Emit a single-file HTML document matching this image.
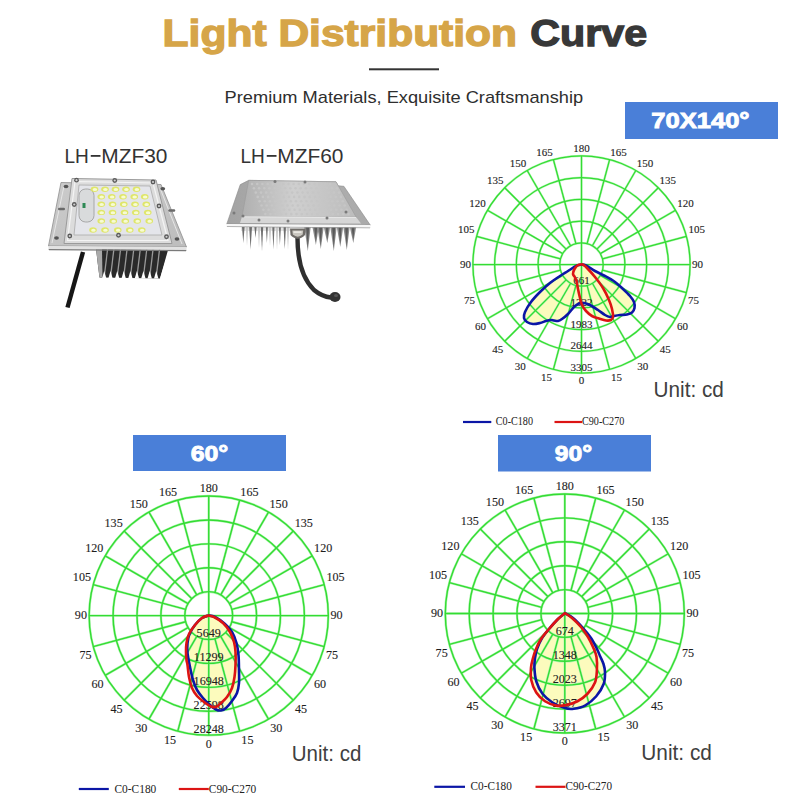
<!DOCTYPE html>
<html><head><meta charset="utf-8"><style>
html,body{margin:0;padding:0;background:#fff;}
body{width:800px;height:800px;overflow:hidden;font-family:"Liberation Sans",sans-serif;}
svg{display:block;}
</style></head><body>
<svg width="800" height="800" viewBox="0 0 800 800">
<defs><linearGradient id="plate1" x1="0" y1="0" x2="1" y2="1"><stop offset="0" stop-color="#cbcbcb"/><stop offset="1" stop-color="#bdbdbd"/></linearGradient><linearGradient id="lens1" x1="0" y1="0" x2="0" y2="1"><stop offset="0" stop-color="#dcdcdc"/><stop offset="1" stop-color="#cfcfcf"/></linearGradient><linearGradient id="plate2" x1="0" y1="0" x2="1" y2="0"><stop offset="0" stop-color="#a3a3a3"/><stop offset="0.5" stop-color="#b0b0b0"/><stop offset="1" stop-color="#aaaaaa"/></linearGradient><linearGradient id="lens2" x1="0" y1="0" x2="1" y2="0"><stop offset="0" stop-color="#b0b0b0"/><stop offset="0.45" stop-color="#cfcfcf"/><stop offset="1" stop-color="#bcbcbc"/></linearGradient></defs>
<text x="162.6" y="46.2" font-family="Liberation Sans, sans-serif" font-weight="bold" font-size="37.5" fill="#d6a548" stroke="#d6a548" stroke-width="1.3" textLength="354.5" lengthAdjust="spacingAndGlyphs">Light Distribution</text>
<text x="530.2" y="46.2" font-family="Liberation Sans, sans-serif" font-weight="bold" font-size="37.5" fill="#383838" stroke="#383838" stroke-width="1.3" textLength="117" lengthAdjust="spacingAndGlyphs">Curve</text>
<rect x="369" y="68.3" width="70" height="2" fill="#333"/>
<text x="224.6" y="103" font-family="Liberation Sans, sans-serif" font-size="17" fill="#2e2e2e" textLength="358.6" lengthAdjust="spacingAndGlyphs">Premium Materials, Exquisite Craftsmanship</text>
<text x="64.5" y="163.25" font-family="Liberation Sans, sans-serif" font-size="20.5" fill="#333" textLength="24.35" lengthAdjust="spacingAndGlyphs">LH</text><rect x="90.75" y="155" width="9.75" height="1.8" fill="#333"/><text x="101.25" y="163.25" font-family="Liberation Sans, sans-serif" font-size="20.5" fill="#333" textLength="66.15" lengthAdjust="spacingAndGlyphs">MZF30</text>
<text x="240.5" y="163.25" font-family="Liberation Sans, sans-serif" font-size="20.5" fill="#333" textLength="24.35" lengthAdjust="spacingAndGlyphs">LH</text><rect x="266.75" y="155" width="9.75" height="1.8" fill="#333"/><text x="277.25" y="163.25" font-family="Liberation Sans, sans-serif" font-size="20.5" fill="#333" textLength="66.15" lengthAdjust="spacingAndGlyphs">MZF60</text>
<path d="M83 252 L67.5 307.5" stroke="#161616" stroke-width="4.4" stroke-linecap="butt" fill="none"/><polygon points="96,249 168,250 160,278.5 99.5,277.5" fill="#2a2a2a"/><polygon points="96,249 102,249 102.5,277.5 99.5,277.5" fill="#a9a9a9"/><line x1="107.6" y1="249" x2="104.2" y2="277" stroke="#9a9a9a" stroke-width="1.3"/><polygon points="102,278.6 106.4,278.6 104.2,271" fill="#fff"/><line x1="113.9" y1="249" x2="110.5" y2="277" stroke="#9a9a9a" stroke-width="1.3"/><polygon points="108.3,278.6 112.7,278.6 110.5,271" fill="#fff"/><line x1="120.6" y1="249" x2="117.2" y2="277" stroke="#9a9a9a" stroke-width="1.3"/><polygon points="115,278.6 119.4,278.6 117.2,271" fill="#fff"/><line x1="127.1" y1="249" x2="123.7" y2="277" stroke="#9a9a9a" stroke-width="1.3"/><polygon points="121.5,278.6 125.9,278.6 123.7,271" fill="#fff"/><line x1="133.8" y1="249" x2="130.4" y2="277" stroke="#9a9a9a" stroke-width="1.3"/><polygon points="128.2,278.6 132.6,278.6 130.4,271" fill="#fff"/><line x1="140.3" y1="249" x2="136.9" y2="277" stroke="#9a9a9a" stroke-width="1.3"/><polygon points="134.7,278.6 139.1,278.6 136.9,271" fill="#fff"/><line x1="146.8" y1="249" x2="143.4" y2="277" stroke="#9a9a9a" stroke-width="1.3"/><polygon points="141.2,278.6 145.6,278.6 143.4,271" fill="#fff"/><line x1="153.1" y1="249" x2="149.7" y2="277" stroke="#9a9a9a" stroke-width="1.3"/><polygon points="147.5,278.6 151.9,278.6 149.7,271" fill="#fff"/><line x1="159.6" y1="249" x2="156.2" y2="277" stroke="#9a9a9a" stroke-width="1.3"/><polygon points="154,278.6 158.4,278.6 156.2,271" fill="#fff"/><polygon points="160,278.6 169,278.6 169,249.5" fill="#fff"/><polygon points="61,182.5 161,184.5 186.5,247 48.5,246" fill="url(#plate1)" stroke="#8e8e8e" stroke-width="0.8"/><polygon points="48.5,246 186.5,247 186.5,250 48.5,249" fill="#e2e2e2"/><polygon points="48.5,249 186.5,250 186,251.2 49,250.2" fill="#7a7a7a"/><line x1="64" y1="186" x2="52" y2="243" stroke="#e6e6e6" stroke-width="1"/><line x1="160" y1="188" x2="182" y2="244" stroke="#e6e6e6" stroke-width="1"/><ellipse cx="66" cy="186.5" rx="2.4" ry="1.7" fill="#555"/><ellipse cx="162.75" cy="188.75" rx="2.4" ry="1.7" fill="#555"/><ellipse cx="56.5" cy="238" rx="2.4" ry="1.7" fill="#555"/><ellipse cx="177" cy="239" rx="2.4" ry="1.7" fill="#555"/><rect x="58" y="207.7" width="7" height="2.6" rx="1.3" fill="#6a6a6a"/><rect x="168.25" y="209.2" width="7" height="2.6" rx="1.3" fill="#6a6a6a"/><polygon points="72,178.5 156,180 172,243.5 64,243.5" fill="#dcdcdc" stroke="#9a9a9a" stroke-width="1" stroke-linejoin="round"/><polygon points="75,181.5 153,183 168,240.5 67.5,240.5" fill="none" stroke="#f4f4f4" stroke-width="1.2"/><polygon points="79,185 150,186 162,235 74,235" fill="#e4e5ea" stroke="#b0b0b0" stroke-width="0.9"/><rect x="79" y="189" width="15" height="33" rx="6.5" fill="#d9dbdc" stroke="#a0a0a0" stroke-width="0.9"/><rect x="82.5" y="203" width="3" height="5" fill="#2e8a55"/><ellipse cx="94.5" cy="189.2" rx="3.8" ry="2.7" fill="#dfe66a"/><ellipse cx="94.9" cy="189.5" rx="2.3" ry="1.5" fill="#f7fbd4"/><ellipse cx="105" cy="189.2" rx="3.8" ry="2.7" fill="#dfe66a"/><ellipse cx="105.4" cy="189.5" rx="2.3" ry="1.5" fill="#f7fbd4"/><ellipse cx="115.5" cy="189.2" rx="3.8" ry="2.7" fill="#dfe66a"/><ellipse cx="115.9" cy="189.5" rx="2.3" ry="1.5" fill="#f7fbd4"/><ellipse cx="126" cy="189.2" rx="3.8" ry="2.7" fill="#dfe66a"/><ellipse cx="126.4" cy="189.5" rx="2.3" ry="1.5" fill="#f7fbd4"/><ellipse cx="136.5" cy="189.2" rx="3.8" ry="2.7" fill="#dfe66a"/><ellipse cx="136.9" cy="189.5" rx="2.3" ry="1.5" fill="#f7fbd4"/><ellipse cx="101.25" cy="196.7" rx="3.8" ry="2.7" fill="#dfe66a"/><ellipse cx="101.65" cy="197" rx="2.3" ry="1.5" fill="#f7fbd4"/><ellipse cx="111.75" cy="196.7" rx="3.8" ry="2.7" fill="#dfe66a"/><ellipse cx="112.15" cy="197" rx="2.3" ry="1.5" fill="#f7fbd4"/><ellipse cx="123" cy="196.7" rx="3.8" ry="2.7" fill="#dfe66a"/><ellipse cx="123.4" cy="197" rx="2.3" ry="1.5" fill="#f7fbd4"/><ellipse cx="134.25" cy="196.7" rx="3.8" ry="2.7" fill="#dfe66a"/><ellipse cx="134.65" cy="197" rx="2.3" ry="1.5" fill="#f7fbd4"/><ellipse cx="144.75" cy="196.7" rx="3.8" ry="2.7" fill="#dfe66a"/><ellipse cx="145.15" cy="197" rx="2.3" ry="1.5" fill="#f7fbd4"/><ellipse cx="101.25" cy="204.2" rx="3.8" ry="2.7" fill="#dfe66a"/><ellipse cx="101.65" cy="204.5" rx="2.3" ry="1.5" fill="#f7fbd4"/><ellipse cx="112.5" cy="204.2" rx="3.8" ry="2.7" fill="#dfe66a"/><ellipse cx="112.9" cy="204.5" rx="2.3" ry="1.5" fill="#f7fbd4"/><ellipse cx="123.75" cy="204.2" rx="3.8" ry="2.7" fill="#dfe66a"/><ellipse cx="124.15" cy="204.5" rx="2.3" ry="1.5" fill="#f7fbd4"/><ellipse cx="135" cy="204.2" rx="3.8" ry="2.7" fill="#dfe66a"/><ellipse cx="135.4" cy="204.5" rx="2.3" ry="1.5" fill="#f7fbd4"/><ellipse cx="146.25" cy="204.2" rx="3.8" ry="2.7" fill="#dfe66a"/><ellipse cx="146.65" cy="204.5" rx="2.3" ry="1.5" fill="#f7fbd4"/><ellipse cx="101.25" cy="212.4" rx="3.8" ry="2.7" fill="#dfe66a"/><ellipse cx="101.65" cy="212.7" rx="2.3" ry="1.5" fill="#f7fbd4"/><ellipse cx="112.5" cy="212.4" rx="3.8" ry="2.7" fill="#dfe66a"/><ellipse cx="112.9" cy="212.7" rx="2.3" ry="1.5" fill="#f7fbd4"/><ellipse cx="124.5" cy="212.4" rx="3.8" ry="2.7" fill="#dfe66a"/><ellipse cx="124.9" cy="212.7" rx="2.3" ry="1.5" fill="#f7fbd4"/><ellipse cx="135.75" cy="212.4" rx="3.8" ry="2.7" fill="#dfe66a"/><ellipse cx="136.15" cy="212.7" rx="2.3" ry="1.5" fill="#f7fbd4"/><ellipse cx="147.75" cy="212.4" rx="3.8" ry="2.7" fill="#dfe66a"/><ellipse cx="148.15" cy="212.7" rx="2.3" ry="1.5" fill="#f7fbd4"/><ellipse cx="101.25" cy="221" rx="3.8" ry="2.7" fill="#dfe66a"/><ellipse cx="101.65" cy="221.3" rx="2.3" ry="1.5" fill="#f7fbd4"/><ellipse cx="113.25" cy="221" rx="3.8" ry="2.7" fill="#dfe66a"/><ellipse cx="113.65" cy="221.3" rx="2.3" ry="1.5" fill="#f7fbd4"/><ellipse cx="125.25" cy="221" rx="3.8" ry="2.7" fill="#dfe66a"/><ellipse cx="125.65" cy="221.3" rx="2.3" ry="1.5" fill="#f7fbd4"/><ellipse cx="137.25" cy="221" rx="3.8" ry="2.7" fill="#dfe66a"/><ellipse cx="137.65" cy="221.3" rx="2.3" ry="1.5" fill="#f7fbd4"/><ellipse cx="149.25" cy="221" rx="3.8" ry="2.7" fill="#dfe66a"/><ellipse cx="149.65" cy="221.3" rx="2.3" ry="1.5" fill="#f7fbd4"/><ellipse cx="93" cy="230" rx="3.8" ry="2.7" fill="#dfe66a"/><ellipse cx="93.4" cy="230.3" rx="2.3" ry="1.5" fill="#f7fbd4"/><ellipse cx="105" cy="230" rx="3.8" ry="2.7" fill="#dfe66a"/><ellipse cx="105.4" cy="230.3" rx="2.3" ry="1.5" fill="#f7fbd4"/><ellipse cx="117.75" cy="230" rx="3.8" ry="2.7" fill="#dfe66a"/><ellipse cx="118.15" cy="230.3" rx="2.3" ry="1.5" fill="#f7fbd4"/><ellipse cx="129.75" cy="230" rx="3.8" ry="2.7" fill="#dfe66a"/><ellipse cx="130.15" cy="230.3" rx="2.3" ry="1.5" fill="#f7fbd4"/><ellipse cx="141.75" cy="230" rx="3.8" ry="2.7" fill="#dfe66a"/><ellipse cx="142.15" cy="230.3" rx="2.3" ry="1.5" fill="#f7fbd4"/><circle cx="76.5" cy="180.2" r="2.4" fill="#5a5a5a"/><circle cx="76.5" cy="180.2" r="1.1" fill="#d0d0d0"/><circle cx="114.75" cy="180.5" r="2.4" fill="#5a5a5a"/><circle cx="114.75" cy="180.5" r="1.1" fill="#d0d0d0"/><circle cx="153" cy="182" r="2.4" fill="#5a5a5a"/><circle cx="153" cy="182" r="1.1" fill="#d0d0d0"/><circle cx="74.25" cy="204.5" r="2.4" fill="#5a5a5a"/><circle cx="74.25" cy="204.5" r="1.1" fill="#d0d0d0"/><circle cx="159" cy="206" r="2.4" fill="#5a5a5a"/><circle cx="159" cy="206" r="1.1" fill="#d0d0d0"/><circle cx="69.75" cy="236" r="2.4" fill="#5a5a5a"/><circle cx="69.75" cy="236" r="1.1" fill="#d0d0d0"/><circle cx="118.5" cy="235.25" r="2.4" fill="#5a5a5a"/><circle cx="118.5" cy="235.25" r="1.1" fill="#d0d0d0"/><circle cx="166.5" cy="236.75" r="2.4" fill="#5a5a5a"/><circle cx="166.5" cy="236.75" r="1.1" fill="#d0d0d0"/>
<polygon points="241,227 290,227 290,231 241,231" fill="#e4e4e4"/><polygon points="242,227 244.6,227 243.3,243" fill="#6f6f6f"/><polygon points="249.2,227 252,227 250.6,249.6" fill="#6f6f6f"/><polygon points="254.4,227 256.6,227 255.5,238" fill="#6f6f6f"/><polygon points="260.8,227 263.2,227 262,251" fill="#6f6f6f"/><polygon points="265.9,227 267.9,227 266.9,243" fill="#6f6f6f"/><polygon points="272.3,227 274.5,227 273.4,249.6" fill="#6f6f6f"/><polygon points="278.9,227 280.9,227 279.9,245" fill="#6f6f6f"/><polygon points="283.55,227 285.95,227 284.75,249.6" fill="#6f6f6f"/><polygon points="245.8,227 248.2,227 247,246" fill="#c8c8c8"/><polygon points="257.8,227 260.2,227 259,248" fill="#c8c8c8"/><polygon points="268.8,227 271.2,227 270,246" fill="#c8c8c8"/><polygon points="275.8,227 278.2,227 277,250" fill="#c8c8c8"/><polygon points="286.8,227 289.2,227 288,250" fill="#c8c8c8"/><polygon points="304.3,227 310.7,227 307.8,251" fill="#8c8c8c"/><polygon points="306.1,227 309.1,227 307.8,248" fill="#5a5a5a"/><polygon points="312.4,227 318.8,227 315.9,245" fill="#8c8c8c"/><polygon points="314.2,227 317.2,227 315.9,242" fill="#5a5a5a"/><polygon points="317.3,227 323.7,227 320.8,249" fill="#8c8c8c"/><polygon points="319.1,227 322.1,227 320.8,246" fill="#5a5a5a"/><polygon points="323.8,227 330.2,227 327.3,243" fill="#8c8c8c"/><polygon points="325.6,227 328.6,227 327.3,240" fill="#5a5a5a"/><polygon points="330.3,227 336.7,227 333.8,251" fill="#8c8c8c"/><polygon points="332.1,227 335.1,227 333.8,248" fill="#5a5a5a"/><polygon points="336.8,227 343.2,227 340.3,247" fill="#8c8c8c"/><polygon points="338.6,227 341.6,227 340.3,244" fill="#5a5a5a"/><polygon points="343.3,227 349.7,227 346.8,250" fill="#8c8c8c"/><polygon points="345.1,227 348.1,227 346.8,247" fill="#5a5a5a"/><polygon points="349.8,227 356.2,227 353.3,243" fill="#8c8c8c"/><polygon points="351.6,227 354.6,227 353.3,240" fill="#5a5a5a"/><path d="M297.5 238 C297.5 258 302 278 314 290 C320 295 326 297 331 297.5" stroke="#2f2f2f" stroke-width="4.4" fill="none" stroke-linecap="butt"/><ellipse cx="335" cy="297" rx="5.5" ry="5" fill="#333"/><ellipse cx="336" cy="295.5" rx="2" ry="1.6" fill="#555"/><path d="M290 228.5 L305.5 228.5 L305 235 Q297.7 242.5 290.5 235 Z" fill="#6f6c68"/><path d="M292.3 230.5 L303.2 230.5 L302.7 234.5 Q297.7 238.8 292.8 234.5 Z" fill="#c9c6bf"/><rect x="293.5" y="231.3" width="8" height="1.6" fill="#eeece6"/><polygon points="240.25,184.6 248.7,180.35 336,181.8 338.25,185.75 343.9,186.3 370.3,225.1 226.75,224" fill="url(#plate2)" stroke="#8c8c8c" stroke-width="0.6"/><polygon points="248.7,180.35 336,181.8 356.25,217.25 242,216.5" fill="url(#lens2)" stroke="#9a9a9a" stroke-width="0.6"/><circle cx="252" cy="184" r="1.3" fill="#c6c6c6"/><circle cx="257.2" cy="184" r="1.3" fill="#c6c6c6"/><circle cx="262.4" cy="184" r="1.3" fill="#c6c6c6"/><circle cx="267.6" cy="184" r="1.3" fill="#c6c6c6"/><circle cx="272.8" cy="184" r="1.3" fill="#c6c6c6"/><circle cx="278" cy="184" r="1.3" fill="#c6c6c6"/><circle cx="283.2" cy="184" r="1.3" fill="#c6c6c6"/><circle cx="288.4" cy="184" r="1.3" fill="#c6c6c6"/><circle cx="293.6" cy="184" r="1.3" fill="#c6c6c6"/><circle cx="298.8" cy="184" r="1.3" fill="#c6c6c6"/><circle cx="304" cy="184" r="1.3" fill="#c6c6c6"/><circle cx="309.2" cy="184" r="1.3" fill="#c6c6c6"/><circle cx="314.4" cy="184" r="1.3" fill="#c6c6c6"/><circle cx="319.6" cy="184" r="1.3" fill="#c6c6c6"/><circle cx="324.8" cy="184" r="1.3" fill="#c6c6c6"/><circle cx="330" cy="184" r="1.3" fill="#c6c6c6"/><circle cx="253.9" cy="188.3" r="1.3" fill="#c6c6c6"/><circle cx="259.1" cy="188.3" r="1.3" fill="#c6c6c6"/><circle cx="264.3" cy="188.3" r="1.3" fill="#c6c6c6"/><circle cx="269.5" cy="188.3" r="1.3" fill="#c6c6c6"/><circle cx="274.7" cy="188.3" r="1.3" fill="#c6c6c6"/><circle cx="279.9" cy="188.3" r="1.3" fill="#c6c6c6"/><circle cx="285.1" cy="188.3" r="1.3" fill="#c6c6c6"/><circle cx="290.3" cy="188.3" r="1.3" fill="#c6c6c6"/><circle cx="295.5" cy="188.3" r="1.3" fill="#c6c6c6"/><circle cx="300.7" cy="188.3" r="1.3" fill="#c6c6c6"/><circle cx="305.9" cy="188.3" r="1.3" fill="#c6c6c6"/><circle cx="311.1" cy="188.3" r="1.3" fill="#c6c6c6"/><circle cx="316.3" cy="188.3" r="1.3" fill="#c6c6c6"/><circle cx="321.5" cy="188.3" r="1.3" fill="#c6c6c6"/><circle cx="326.7" cy="188.3" r="1.3" fill="#c6c6c6"/><circle cx="331.9" cy="188.3" r="1.3" fill="#c6c6c6"/><circle cx="337.1" cy="188.3" r="1.3" fill="#c6c6c6"/><circle cx="255.8" cy="192.6" r="1.3" fill="#c6c6c6"/><circle cx="261" cy="192.6" r="1.3" fill="#c6c6c6"/><circle cx="266.2" cy="192.6" r="1.3" fill="#c6c6c6"/><circle cx="271.4" cy="192.6" r="1.3" fill="#c6c6c6"/><circle cx="276.6" cy="192.6" r="1.3" fill="#c6c6c6"/><circle cx="281.8" cy="192.6" r="1.3" fill="#c6c6c6"/><circle cx="287" cy="192.6" r="1.3" fill="#c6c6c6"/><circle cx="292.2" cy="192.6" r="1.3" fill="#c6c6c6"/><circle cx="297.4" cy="192.6" r="1.3" fill="#c6c6c6"/><circle cx="302.6" cy="192.6" r="1.3" fill="#c6c6c6"/><circle cx="307.8" cy="192.6" r="1.3" fill="#c6c6c6"/><circle cx="313" cy="192.6" r="1.3" fill="#c6c6c6"/><circle cx="318.2" cy="192.6" r="1.3" fill="#c6c6c6"/><circle cx="323.4" cy="192.6" r="1.3" fill="#c6c6c6"/><circle cx="328.6" cy="192.6" r="1.3" fill="#c6c6c6"/><circle cx="333.8" cy="192.6" r="1.3" fill="#c6c6c6"/><circle cx="339" cy="192.6" r="1.3" fill="#c6c6c6"/><circle cx="257.7" cy="196.9" r="1.3" fill="#c6c6c6"/><circle cx="262.9" cy="196.9" r="1.3" fill="#c6c6c6"/><circle cx="268.1" cy="196.9" r="1.3" fill="#c6c6c6"/><circle cx="273.3" cy="196.9" r="1.3" fill="#c6c6c6"/><circle cx="278.5" cy="196.9" r="1.3" fill="#c6c6c6"/><circle cx="283.7" cy="196.9" r="1.3" fill="#c6c6c6"/><circle cx="288.9" cy="196.9" r="1.3" fill="#c6c6c6"/><circle cx="294.1" cy="196.9" r="1.3" fill="#c6c6c6"/><circle cx="299.3" cy="196.9" r="1.3" fill="#c6c6c6"/><circle cx="304.5" cy="196.9" r="1.3" fill="#c6c6c6"/><circle cx="309.7" cy="196.9" r="1.3" fill="#c6c6c6"/><circle cx="314.9" cy="196.9" r="1.3" fill="#c6c6c6"/><circle cx="320.1" cy="196.9" r="1.3" fill="#c6c6c6"/><circle cx="325.3" cy="196.9" r="1.3" fill="#c6c6c6"/><circle cx="330.5" cy="196.9" r="1.3" fill="#c6c6c6"/><circle cx="335.7" cy="196.9" r="1.3" fill="#c6c6c6"/><circle cx="340.9" cy="196.9" r="1.3" fill="#c6c6c6"/><circle cx="259.6" cy="201.2" r="1.3" fill="#c6c6c6"/><circle cx="264.8" cy="201.2" r="1.3" fill="#c6c6c6"/><circle cx="270" cy="201.2" r="1.3" fill="#c6c6c6"/><circle cx="275.2" cy="201.2" r="1.3" fill="#c6c6c6"/><circle cx="280.4" cy="201.2" r="1.3" fill="#c6c6c6"/><circle cx="285.6" cy="201.2" r="1.3" fill="#c6c6c6"/><circle cx="290.8" cy="201.2" r="1.3" fill="#c6c6c6"/><circle cx="296" cy="201.2" r="1.3" fill="#c6c6c6"/><circle cx="301.2" cy="201.2" r="1.3" fill="#c6c6c6"/><circle cx="306.4" cy="201.2" r="1.3" fill="#c6c6c6"/><circle cx="311.6" cy="201.2" r="1.3" fill="#c6c6c6"/><circle cx="316.8" cy="201.2" r="1.3" fill="#c6c6c6"/><circle cx="322" cy="201.2" r="1.3" fill="#c6c6c6"/><circle cx="327.2" cy="201.2" r="1.3" fill="#c6c6c6"/><circle cx="332.4" cy="201.2" r="1.3" fill="#c6c6c6"/><circle cx="337.6" cy="201.2" r="1.3" fill="#c6c6c6"/><circle cx="342.8" cy="201.2" r="1.3" fill="#c6c6c6"/><circle cx="261.5" cy="205.5" r="1.3" fill="#c6c6c6"/><circle cx="266.7" cy="205.5" r="1.3" fill="#c6c6c6"/><circle cx="271.9" cy="205.5" r="1.3" fill="#c6c6c6"/><circle cx="277.1" cy="205.5" r="1.3" fill="#c6c6c6"/><circle cx="282.3" cy="205.5" r="1.3" fill="#c6c6c6"/><circle cx="287.5" cy="205.5" r="1.3" fill="#c6c6c6"/><circle cx="292.7" cy="205.5" r="1.3" fill="#c6c6c6"/><circle cx="297.9" cy="205.5" r="1.3" fill="#c6c6c6"/><circle cx="303.1" cy="205.5" r="1.3" fill="#c6c6c6"/><circle cx="308.3" cy="205.5" r="1.3" fill="#c6c6c6"/><circle cx="313.5" cy="205.5" r="1.3" fill="#c6c6c6"/><circle cx="318.7" cy="205.5" r="1.3" fill="#c6c6c6"/><circle cx="323.9" cy="205.5" r="1.3" fill="#c6c6c6"/><circle cx="329.1" cy="205.5" r="1.3" fill="#c6c6c6"/><circle cx="334.3" cy="205.5" r="1.3" fill="#c6c6c6"/><circle cx="339.5" cy="205.5" r="1.3" fill="#c6c6c6"/><circle cx="344.7" cy="205.5" r="1.3" fill="#c6c6c6"/><circle cx="263.4" cy="209.8" r="1.3" fill="#c6c6c6"/><circle cx="268.6" cy="209.8" r="1.3" fill="#c6c6c6"/><circle cx="273.8" cy="209.8" r="1.3" fill="#c6c6c6"/><circle cx="279" cy="209.8" r="1.3" fill="#c6c6c6"/><circle cx="284.2" cy="209.8" r="1.3" fill="#c6c6c6"/><circle cx="289.4" cy="209.8" r="1.3" fill="#c6c6c6"/><circle cx="294.6" cy="209.8" r="1.3" fill="#c6c6c6"/><circle cx="299.8" cy="209.8" r="1.3" fill="#c6c6c6"/><circle cx="305" cy="209.8" r="1.3" fill="#c6c6c6"/><circle cx="310.2" cy="209.8" r="1.3" fill="#c6c6c6"/><circle cx="315.4" cy="209.8" r="1.3" fill="#c6c6c6"/><circle cx="320.6" cy="209.8" r="1.3" fill="#c6c6c6"/><circle cx="325.8" cy="209.8" r="1.3" fill="#c6c6c6"/><circle cx="331" cy="209.8" r="1.3" fill="#c6c6c6"/><circle cx="336.2" cy="209.8" r="1.3" fill="#c6c6c6"/><circle cx="341.4" cy="209.8" r="1.3" fill="#c6c6c6"/><circle cx="346.6" cy="209.8" r="1.3" fill="#c6c6c6"/><circle cx="265.3" cy="214.1" r="1.3" fill="#c6c6c6"/><circle cx="270.5" cy="214.1" r="1.3" fill="#c6c6c6"/><circle cx="275.7" cy="214.1" r="1.3" fill="#c6c6c6"/><circle cx="280.9" cy="214.1" r="1.3" fill="#c6c6c6"/><circle cx="286.1" cy="214.1" r="1.3" fill="#c6c6c6"/><circle cx="291.3" cy="214.1" r="1.3" fill="#c6c6c6"/><circle cx="296.5" cy="214.1" r="1.3" fill="#c6c6c6"/><circle cx="301.7" cy="214.1" r="1.3" fill="#c6c6c6"/><circle cx="306.9" cy="214.1" r="1.3" fill="#c6c6c6"/><circle cx="312.1" cy="214.1" r="1.3" fill="#c6c6c6"/><circle cx="317.3" cy="214.1" r="1.3" fill="#c6c6c6"/><circle cx="322.5" cy="214.1" r="1.3" fill="#c6c6c6"/><circle cx="327.7" cy="214.1" r="1.3" fill="#c6c6c6"/><circle cx="332.9" cy="214.1" r="1.3" fill="#c6c6c6"/><circle cx="338.1" cy="214.1" r="1.3" fill="#c6c6c6"/><circle cx="343.3" cy="214.1" r="1.3" fill="#c6c6c6"/><circle cx="348.5" cy="214.1" r="1.3" fill="#c6c6c6"/><polygon points="242,216.5 356.25,217.25 361,223.5 240,223" fill="#d6d6d6"/><line x1="242" y1="216.8" x2="356" y2="217.5" stroke="#eeeeee" stroke-width="0.8"/><polygon points="226.75,224 370.3,225.1 370.3,227.4 226.75,226.3" fill="#f6f6f6"/><polygon points="226.75,226.3 370.3,227.4 370,228.2 227,227.1" fill="#9a9a9a"/><circle cx="275" cy="181.5" r="1.5" fill="#7a7a7a"/><circle cx="305" cy="182" r="1.5" fill="#7a7a7a"/><circle cx="243" cy="216" r="1.5" fill="#7a7a7a"/><circle cx="327" cy="218" r="1.5" fill="#7a7a7a"/><circle cx="346" cy="212" r="1.5" fill="#7a7a7a"/><circle cx="234" cy="213" r="1.5" fill="#7a7a7a"/><circle cx="259" cy="220" r="1.5" fill="#7a7a7a"/><circle cx="288" cy="221" r="1.5" fill="#7a7a7a"/>
<rect x="625" y="102" width="153" height="37" fill="#4a7fd8"/><text x="651.35" y="127.5" font-family="Liberation Sans, sans-serif" font-weight="bold" font-size="22" fill="#fff" stroke="#fff" stroke-width="0.9" textLength="98.2" lengthAdjust="spacingAndGlyphs">70X140°</text>
<rect x="133" y="435" width="153" height="36" fill="#4a7fd8"/><text x="190.65" y="460.5" font-family="Liberation Sans, sans-serif" font-weight="bold" font-size="22" fill="#fff" stroke="#fff" stroke-width="0.9" textLength="37.6" lengthAdjust="spacingAndGlyphs">60°</text>
<rect x="498" y="435" width="153" height="36.5" fill="#4a7fd8"/><text x="554.75" y="460.5" font-family="Liberation Sans, sans-serif" font-weight="bold" font-size="22" fill="#fff" stroke="#fff" stroke-width="0.9" textLength="37.3" lengthAdjust="spacingAndGlyphs">90°</text>
<g fill="#fcfbbd" stroke="none"><path d="M581.5 264.5 C580.58 264.75 578.25 264.92 576 266 C573.75 267.08 570.67 269.33 568 271 C565.33 272.67 563 274 560 276 C557 278 553.33 280.33 550 283 C546.67 285.67 543.17 288.83 540 292 C536.83 295.17 533.5 298.67 531 302 C528.5 305.33 526.17 309.33 525 312 C523.83 314.67 523.67 316.33 524 318 C524.33 319.67 525.5 321 527 322 C528.5 323 530.83 323.83 533 324 C535.17 324.17 537.83 323.5 540 323 C542.17 322.5 544.17 321.5 546 321 C547.83 320.5 549.67 320.08 551 320 C552.33 319.92 552.83 320.33 554 320.5 C555.17 320.67 556.67 321.25 558 321 C559.33 320.75 560.33 320.17 562 319 C563.67 317.83 566 316 568 314 C570 312 572.17 308.75 574 307 C575.83 305.25 577.33 304.17 579 303.5 C580.67 302.83 582.17 302.75 584 303 C585.83 303.25 587.67 303.83 590 305 C592.33 306.17 595.5 308.33 598 310 C600.5 311.67 603 313.83 605 315 C607 316.17 608.5 316.83 610 317 C611.5 317.17 612.33 316.33 614 316 C615.67 315.67 617.83 315.25 620 315 C622.17 314.75 625 314.92 627 314.5 C629 314.08 630.75 313.58 632 312.5 C633.25 311.42 634.17 309.75 634.5 308 C634.83 306.25 634.75 304 634 302 C633.25 300 631.83 298.17 630 296 C628.17 293.83 625.5 291.33 623 289 C620.5 286.67 618 284.17 615 282 C612 279.83 608.33 277.83 605 276 C601.67 274.17 598.17 272.75 595 271 C591.83 269.25 588.25 266.58 586 265.5 C583.75 264.42 582.25 264.67 581.5 264.5Z"/><path d="M581.5 264.5 C580.92 264.58 579.17 264.25 578 265 C576.83 265.75 575.33 267.5 574.5 269 C573.67 270.5 573 272.75 573 274 C573 275.25 573.92 275.33 574.5 276.5 C575.08 277.67 575.92 278.92 576.5 281 C577.08 283.08 577.42 286.17 578 289 C578.58 291.83 579.33 295.33 580 298 C580.67 300.67 581 302.83 582 305 C583 307.17 584.33 309.17 586 311 C587.67 312.83 589.83 314.75 592 316 C594.17 317.25 596.67 317.75 599 318.5 C601.33 319.25 604 320.25 606 320.5 C608 320.75 609.83 320.58 611 320 C612.17 319.42 612.83 318.83 613 317 C613.17 315.17 612.67 311.83 612 309 C611.33 306.17 610.5 303.5 609 300 C607.5 296.5 605.33 291.83 603 288 C600.67 284.17 597.67 280.33 595 277 C592.33 273.67 589 270.05 587 268 C585 265.95 583.92 265.28 583 264.7 C582.08 264.12 581.75 264.53 581.5 264.5Z"/></g><g fill="none" stroke="#b0f5b0" stroke-width="2.2"><circle cx="581.5" cy="264.5" r="21.72"/><circle cx="581.5" cy="264.5" r="43.44"/><circle cx="581.5" cy="264.5" r="65.16"/><circle cx="581.5" cy="264.5" r="86.88"/><circle cx="581.5" cy="264.5" r="108.6"/><line x1="581.5" y1="264.5" x2="581.5" y2="373.1"/><line x1="587.12" y1="285.48" x2="609.61" y2="369.4"/><line x1="592.36" y1="283.31" x2="635.8" y2="358.55"/><line x1="596.86" y1="279.86" x2="658.29" y2="341.29"/><line x1="600.31" y1="275.36" x2="675.55" y2="318.8"/><line x1="602.48" y1="270.12" x2="686.4" y2="292.61"/><line x1="581.5" y1="264.5" x2="690.1" y2="264.5"/><line x1="602.48" y1="258.88" x2="686.4" y2="236.39"/><line x1="600.31" y1="253.64" x2="675.55" y2="210.2"/><line x1="596.86" y1="249.14" x2="658.29" y2="187.71"/><line x1="592.36" y1="245.69" x2="635.8" y2="170.45"/><line x1="587.12" y1="243.52" x2="609.61" y2="159.6"/><line x1="581.5" y1="264.5" x2="581.5" y2="155.9"/><line x1="575.88" y1="243.52" x2="553.39" y2="159.6"/><line x1="570.64" y1="245.69" x2="527.2" y2="170.45"/><line x1="566.14" y1="249.14" x2="504.71" y2="187.71"/><line x1="562.69" y1="253.64" x2="487.45" y2="210.2"/><line x1="560.52" y1="258.88" x2="476.6" y2="236.39"/><line x1="581.5" y1="264.5" x2="472.9" y2="264.5"/><line x1="560.52" y1="270.12" x2="476.6" y2="292.61"/><line x1="562.69" y1="275.36" x2="487.45" y2="318.8"/><line x1="566.14" y1="279.86" x2="504.71" y2="341.29"/><line x1="570.64" y1="283.31" x2="527.2" y2="358.55"/><line x1="575.88" y1="285.48" x2="553.39" y2="369.4"/></g><g fill="none" stroke="#33dc33" stroke-width="1.25"><circle cx="581.5" cy="264.5" r="21.72"/><circle cx="581.5" cy="264.5" r="43.44"/><circle cx="581.5" cy="264.5" r="65.16"/><circle cx="581.5" cy="264.5" r="86.88"/><circle cx="581.5" cy="264.5" r="108.6"/><line x1="581.5" y1="264.5" x2="581.5" y2="373.1"/><line x1="587.12" y1="285.48" x2="609.61" y2="369.4"/><line x1="592.36" y1="283.31" x2="635.8" y2="358.55"/><line x1="596.86" y1="279.86" x2="658.29" y2="341.29"/><line x1="600.31" y1="275.36" x2="675.55" y2="318.8"/><line x1="602.48" y1="270.12" x2="686.4" y2="292.61"/><line x1="581.5" y1="264.5" x2="690.1" y2="264.5"/><line x1="602.48" y1="258.88" x2="686.4" y2="236.39"/><line x1="600.31" y1="253.64" x2="675.55" y2="210.2"/><line x1="596.86" y1="249.14" x2="658.29" y2="187.71"/><line x1="592.36" y1="245.69" x2="635.8" y2="170.45"/><line x1="587.12" y1="243.52" x2="609.61" y2="159.6"/><line x1="581.5" y1="264.5" x2="581.5" y2="155.9"/><line x1="575.88" y1="243.52" x2="553.39" y2="159.6"/><line x1="570.64" y1="245.69" x2="527.2" y2="170.45"/><line x1="566.14" y1="249.14" x2="504.71" y2="187.71"/><line x1="562.69" y1="253.64" x2="487.45" y2="210.2"/><line x1="560.52" y1="258.88" x2="476.6" y2="236.39"/><line x1="581.5" y1="264.5" x2="472.9" y2="264.5"/><line x1="560.52" y1="270.12" x2="476.6" y2="292.61"/><line x1="562.69" y1="275.36" x2="487.45" y2="318.8"/><line x1="566.14" y1="279.86" x2="504.71" y2="341.29"/><line x1="570.64" y1="283.31" x2="527.2" y2="358.55"/><line x1="575.88" y1="285.48" x2="553.39" y2="369.4"/></g><g font-family="Liberation Serif, serif" font-size="11" fill="#1e1e1e" stroke="#1e1e1e" stroke-width="0.12"><text x="581.5" y="152.1" text-anchor="middle">180</text><text x="581.5" y="384.3" text-anchor="middle">0</text><text x="470.9" y="268" text-anchor="end">90</text><text x="692.1" y="268" text-anchor="start">90</text><text x="474.6" y="232.79" text-anchor="end">105</text><text x="688.4" y="232.79" text-anchor="start">105</text><text x="485.8" y="206.6" text-anchor="end">120</text><text x="677.2" y="206.6" text-anchor="start">120</text><text x="503.41" y="184.11" text-anchor="end">135</text><text x="659.59" y="184.11" text-anchor="start">135</text><text x="526.25" y="166.85" text-anchor="end">150</text><text x="636.75" y="166.85" text-anchor="start">150</text><text x="552.79" y="156" text-anchor="end">165</text><text x="610.21" y="156" text-anchor="start">165</text><text x="551.89" y="380.7" text-anchor="end">15</text><text x="611.11" y="380.7" text-anchor="start">15</text><text x="525.7" y="369.85" text-anchor="end">30</text><text x="637.3" y="369.85" text-anchor="start">30</text><text x="503.21" y="352.59" text-anchor="end">45</text><text x="659.79" y="352.59" text-anchor="start">45</text><text x="485.95" y="330.1" text-anchor="end">60</text><text x="677.05" y="330.1" text-anchor="start">60</text><text x="475.1" y="303.91" text-anchor="end">75</text><text x="687.9" y="303.91" text-anchor="start">75</text></g><g font-family="Liberation Serif, serif" font-size="11" fill="#1e1e1e" stroke="#1e1e1e" stroke-width="0.12"><text x="581.5" y="284.22" text-anchor="middle">661</text><text x="581.5" y="305.94" text-anchor="middle">1322</text><text x="581.5" y="327.66" text-anchor="middle">1983</text><text x="581.5" y="349.38" text-anchor="middle">2644</text><text x="581.5" y="371.1" text-anchor="middle">3305</text></g><g fill="none" stroke-width="2.6" stroke-linejoin="round"><path stroke="#0b16a6" d="M581.5 264.5 C580.58 264.75 578.25 264.92 576 266 C573.75 267.08 570.67 269.33 568 271 C565.33 272.67 563 274 560 276 C557 278 553.33 280.33 550 283 C546.67 285.67 543.17 288.83 540 292 C536.83 295.17 533.5 298.67 531 302 C528.5 305.33 526.17 309.33 525 312 C523.83 314.67 523.67 316.33 524 318 C524.33 319.67 525.5 321 527 322 C528.5 323 530.83 323.83 533 324 C535.17 324.17 537.83 323.5 540 323 C542.17 322.5 544.17 321.5 546 321 C547.83 320.5 549.67 320.08 551 320 C552.33 319.92 552.83 320.33 554 320.5 C555.17 320.67 556.67 321.25 558 321 C559.33 320.75 560.33 320.17 562 319 C563.67 317.83 566 316 568 314 C570 312 572.17 308.75 574 307 C575.83 305.25 577.33 304.17 579 303.5 C580.67 302.83 582.17 302.75 584 303 C585.83 303.25 587.67 303.83 590 305 C592.33 306.17 595.5 308.33 598 310 C600.5 311.67 603 313.83 605 315 C607 316.17 608.5 316.83 610 317 C611.5 317.17 612.33 316.33 614 316 C615.67 315.67 617.83 315.25 620 315 C622.17 314.75 625 314.92 627 314.5 C629 314.08 630.75 313.58 632 312.5 C633.25 311.42 634.17 309.75 634.5 308 C634.83 306.25 634.75 304 634 302 C633.25 300 631.83 298.17 630 296 C628.17 293.83 625.5 291.33 623 289 C620.5 286.67 618 284.17 615 282 C612 279.83 608.33 277.83 605 276 C601.67 274.17 598.17 272.75 595 271 C591.83 269.25 588.25 266.58 586 265.5 C583.75 264.42 582.25 264.67 581.5 264.5Z"/><path stroke="#dc1414" d="M581.5 264.5 C580.92 264.58 579.17 264.25 578 265 C576.83 265.75 575.33 267.5 574.5 269 C573.67 270.5 573 272.75 573 274 C573 275.25 573.92 275.33 574.5 276.5 C575.08 277.67 575.92 278.92 576.5 281 C577.08 283.08 577.42 286.17 578 289 C578.58 291.83 579.33 295.33 580 298 C580.67 300.67 581 302.83 582 305 C583 307.17 584.33 309.17 586 311 C587.67 312.83 589.83 314.75 592 316 C594.17 317.25 596.67 317.75 599 318.5 C601.33 319.25 604 320.25 606 320.5 C608 320.75 609.83 320.58 611 320 C612.17 319.42 612.83 318.83 613 317 C613.17 315.17 612.67 311.83 612 309 C611.33 306.17 610.5 303.5 609 300 C607.5 296.5 605.33 291.83 603 288 C600.67 284.17 597.67 280.33 595 277 C592.33 273.67 589 270.05 587 268 C585 265.95 583.92 265.28 583 264.7 C582.08 264.12 581.75 264.53 581.5 264.5Z"/></g>
<g fill="#fcfbbd" stroke="none"><path d="M208.5 615.5 C207.42 615.92 204.25 616.42 202 618 C199.75 619.58 197.08 622.33 195 625 C192.92 627.67 190.75 631 189.5 634 C188.25 637 187.83 639.83 187.5 643 C187.17 646.17 187.08 649 187.5 653 C187.92 657 189.08 662.5 190 667 C190.92 671.5 191.83 676.17 193 680 C194.17 683.83 195.33 687 197 690 C198.67 693 200.83 695.5 203 698 C205.17 700.5 207.83 703.08 210 705 C212.17 706.92 214.17 708.58 216 709.5 C217.83 710.42 219.33 710.75 221 710.5 C222.67 710.25 224.17 709.58 226 708 C227.83 706.42 230.17 703.5 232 701 C233.83 698.5 235.83 696 237 693 C238.17 690 238.67 686.83 239 683 C239.33 679.17 239.08 674.67 239 670 C238.92 665.33 238.92 659.5 238.5 655 C238.08 650.5 237.58 646.83 236.5 643 C235.42 639.17 233.92 635.17 232 632 C230.08 628.83 227.83 626.5 225 624 C222.17 621.5 217.75 618.42 215 617 C212.25 615.58 209.58 615.75 208.5 615.5Z"/><path d="M208.5 615.5 C207.42 615.92 204.25 616.42 202 618 C199.75 619.58 197.17 622.33 195 625 C192.83 627.67 190.42 631 189 634 C187.58 637 187 640 186.5 643 C186 646 186 649.17 186 652 C186 654.83 186.25 657.83 186.5 660 C186.75 662.17 187.08 662.17 187.5 665 C187.92 667.83 188.25 673.17 189 677 C189.75 680.83 190.67 684.83 192 688 C193.33 691.17 195 693.67 197 696 C199 698.33 201.67 700.25 204 702 C206.33 703.75 209 705.67 211 706.5 C213 707.33 214.33 707.58 216 707 C217.67 706.42 219.17 704.67 221 703 C222.83 701.33 225.17 699.5 227 697 C228.83 694.5 230.75 691.33 232 688 C233.25 684.67 233.92 680.83 234.5 677 C235.08 673.17 235.33 669.17 235.5 665 C235.67 660.83 235.75 655.83 235.5 652 C235.25 648.17 234.92 645.33 234 642 C233.08 638.67 231.83 635.17 230 632 C228.17 628.83 225.67 625.5 223 623 C220.33 620.5 216.42 618.25 214 617 C211.58 615.75 209.42 615.75 208.5 615.5Z"/></g><g fill="none" stroke="#b0f5b0" stroke-width="2.42"><circle cx="208.73" cy="615.6" r="23.92"/><circle cx="208.73" cy="615.6" r="47.83"/><circle cx="208.73" cy="615.6" r="71.75"/><circle cx="208.73" cy="615.6" r="95.66"/><circle cx="208.73" cy="615.6" r="119.58"/><line x1="208.73" y1="615.6" x2="208.73" y2="735.18"/><line x1="214.92" y1="638.7" x2="239.68" y2="731.11"/><line x1="220.69" y1="636.31" x2="268.52" y2="719.16"/><line x1="225.64" y1="632.51" x2="293.29" y2="700.16"/><line x1="229.44" y1="627.56" x2="312.29" y2="675.39"/><line x1="231.83" y1="621.79" x2="324.24" y2="646.55"/><line x1="208.73" y1="615.6" x2="328.31" y2="615.6"/><line x1="231.83" y1="609.41" x2="324.24" y2="584.65"/><line x1="229.44" y1="603.64" x2="312.29" y2="555.81"/><line x1="225.64" y1="598.69" x2="293.29" y2="531.04"/><line x1="220.69" y1="594.89" x2="268.52" y2="512.04"/><line x1="214.92" y1="592.5" x2="239.68" y2="500.09"/><line x1="208.73" y1="615.6" x2="208.73" y2="496.02"/><line x1="202.54" y1="592.5" x2="177.78" y2="500.09"/><line x1="196.77" y1="594.89" x2="148.94" y2="512.04"/><line x1="191.82" y1="598.69" x2="124.17" y2="531.04"/><line x1="188.02" y1="603.64" x2="105.17" y2="555.81"/><line x1="185.63" y1="609.41" x2="93.22" y2="584.65"/><line x1="208.73" y1="615.6" x2="89.15" y2="615.6"/><line x1="185.63" y1="621.79" x2="93.22" y2="646.55"/><line x1="188.02" y1="627.56" x2="105.17" y2="675.39"/><line x1="191.82" y1="632.51" x2="124.17" y2="700.16"/><line x1="196.77" y1="636.31" x2="148.94" y2="719.16"/><line x1="202.54" y1="638.7" x2="177.78" y2="731.11"/></g><g fill="none" stroke="#33dc33" stroke-width="1.38"><circle cx="208.73" cy="615.6" r="23.92"/><circle cx="208.73" cy="615.6" r="47.83"/><circle cx="208.73" cy="615.6" r="71.75"/><circle cx="208.73" cy="615.6" r="95.66"/><circle cx="208.73" cy="615.6" r="119.58"/><line x1="208.73" y1="615.6" x2="208.73" y2="735.18"/><line x1="214.92" y1="638.7" x2="239.68" y2="731.11"/><line x1="220.69" y1="636.31" x2="268.52" y2="719.16"/><line x1="225.64" y1="632.51" x2="293.29" y2="700.16"/><line x1="229.44" y1="627.56" x2="312.29" y2="675.39"/><line x1="231.83" y1="621.79" x2="324.24" y2="646.55"/><line x1="208.73" y1="615.6" x2="328.31" y2="615.6"/><line x1="231.83" y1="609.41" x2="324.24" y2="584.65"/><line x1="229.44" y1="603.64" x2="312.29" y2="555.81"/><line x1="225.64" y1="598.69" x2="293.29" y2="531.04"/><line x1="220.69" y1="594.89" x2="268.52" y2="512.04"/><line x1="214.92" y1="592.5" x2="239.68" y2="500.09"/><line x1="208.73" y1="615.6" x2="208.73" y2="496.02"/><line x1="202.54" y1="592.5" x2="177.78" y2="500.09"/><line x1="196.77" y1="594.89" x2="148.94" y2="512.04"/><line x1="191.82" y1="598.69" x2="124.17" y2="531.04"/><line x1="188.02" y1="603.64" x2="105.17" y2="555.81"/><line x1="185.63" y1="609.41" x2="93.22" y2="584.65"/><line x1="208.73" y1="615.6" x2="89.15" y2="615.6"/><line x1="185.63" y1="621.79" x2="93.22" y2="646.55"/><line x1="188.02" y1="627.56" x2="105.17" y2="675.39"/><line x1="191.82" y1="632.51" x2="124.17" y2="700.16"/><line x1="196.77" y1="636.31" x2="148.94" y2="719.16"/><line x1="202.54" y1="638.7" x2="177.78" y2="731.11"/></g><g font-family="Liberation Serif, serif" font-size="12.11" fill="#1e1e1e" stroke="#1e1e1e" stroke-width="0.12"><text x="208.73" y="491.84" text-anchor="middle">180</text><text x="208.73" y="747.51" text-anchor="middle">0</text><text x="86.95" y="619.45" text-anchor="end">90</text><text x="330.51" y="619.45" text-anchor="start">90</text><text x="91.02" y="580.69" text-anchor="end">105</text><text x="326.44" y="580.69" text-anchor="start">105</text><text x="103.35" y="551.85" text-anchor="end">120</text><text x="314.11" y="551.85" text-anchor="start">120</text><text x="122.74" y="527.08" text-anchor="end">135</text><text x="294.72" y="527.08" text-anchor="start">135</text><text x="147.89" y="508.08" text-anchor="end">150</text><text x="269.57" y="508.08" text-anchor="start">150</text><text x="177.12" y="496.13" text-anchor="end">165</text><text x="240.34" y="496.13" text-anchor="start">165</text><text x="176.13" y="743.54" text-anchor="end">15</text><text x="241.33" y="743.54" text-anchor="start">15</text><text x="147.29" y="731.6" text-anchor="end">30</text><text x="270.17" y="731.6" text-anchor="start">30</text><text x="122.52" y="712.59" text-anchor="end">45</text><text x="294.94" y="712.59" text-anchor="start">45</text><text x="103.52" y="687.83" text-anchor="end">60</text><text x="313.94" y="687.83" text-anchor="start">60</text><text x="91.57" y="658.99" text-anchor="end">75</text><text x="325.89" y="658.99" text-anchor="start">75</text></g><g font-family="Liberation Serif, serif" font-size="12.11" fill="#1e1e1e" stroke="#1e1e1e" stroke-width="0.12"><text x="208.73" y="637.31" text-anchor="middle">5649</text><text x="208.73" y="661.23" text-anchor="middle">11299</text><text x="208.73" y="685.15" text-anchor="middle">16948</text><text x="208.73" y="709.06" text-anchor="middle">22598</text><text x="208.73" y="732.98" text-anchor="middle">28248</text></g><g fill="none" stroke-width="2.6" stroke-linejoin="round"><path stroke="#0b16a6" d="M208.5 615.5 C207.42 615.92 204.25 616.42 202 618 C199.75 619.58 197.08 622.33 195 625 C192.92 627.67 190.75 631 189.5 634 C188.25 637 187.83 639.83 187.5 643 C187.17 646.17 187.08 649 187.5 653 C187.92 657 189.08 662.5 190 667 C190.92 671.5 191.83 676.17 193 680 C194.17 683.83 195.33 687 197 690 C198.67 693 200.83 695.5 203 698 C205.17 700.5 207.83 703.08 210 705 C212.17 706.92 214.17 708.58 216 709.5 C217.83 710.42 219.33 710.75 221 710.5 C222.67 710.25 224.17 709.58 226 708 C227.83 706.42 230.17 703.5 232 701 C233.83 698.5 235.83 696 237 693 C238.17 690 238.67 686.83 239 683 C239.33 679.17 239.08 674.67 239 670 C238.92 665.33 238.92 659.5 238.5 655 C238.08 650.5 237.58 646.83 236.5 643 C235.42 639.17 233.92 635.17 232 632 C230.08 628.83 227.83 626.5 225 624 C222.17 621.5 217.75 618.42 215 617 C212.25 615.58 209.58 615.75 208.5 615.5Z"/><path stroke="#dc1414" d="M208.5 615.5 C207.42 615.92 204.25 616.42 202 618 C199.75 619.58 197.17 622.33 195 625 C192.83 627.67 190.42 631 189 634 C187.58 637 187 640 186.5 643 C186 646 186 649.17 186 652 C186 654.83 186.25 657.83 186.5 660 C186.75 662.17 187.08 662.17 187.5 665 C187.92 667.83 188.25 673.17 189 677 C189.75 680.83 190.67 684.83 192 688 C193.33 691.17 195 693.67 197 696 C199 698.33 201.67 700.25 204 702 C206.33 703.75 209 705.67 211 706.5 C213 707.33 214.33 707.58 216 707 C217.67 706.42 219.17 704.67 221 703 C222.83 701.33 225.17 699.5 227 697 C228.83 694.5 230.75 691.33 232 688 C233.25 684.67 233.92 680.83 234.5 677 C235.08 673.17 235.33 669.17 235.5 665 C235.67 660.83 235.75 655.83 235.5 652 C235.25 648.17 234.92 645.33 234 642 C233.08 638.67 231.83 635.17 230 632 C228.17 628.83 225.67 625.5 223 623 C220.33 620.5 216.42 618.25 214 617 C211.58 615.75 209.42 615.75 208.5 615.5Z"/></g>
<g fill="#fcfbbd" stroke="none"><path d="M565 613.2 C563.83 614.17 560.67 616.37 558 619 C555.33 621.63 551.75 625.67 549 629 C546.25 632.33 543.5 635.67 541.5 639 C539.5 642.33 538.08 645.83 537 649 C535.92 652.17 535.43 654.92 535 658 C534.57 661.08 534.19 663.62 534.4 667.5 C534.61 671.38 534.9 676.88 536.25 681.25 C537.6 685.62 539.79 690.21 542.5 693.75 C545.21 697.29 548.75 700.11 552.5 702.5 C556.25 704.89 561.46 707.06 565 708.1 C568.54 709.14 570.42 709.17 573.75 708.75 C577.08 708.33 581.25 707.68 585 705.6 C588.75 703.52 593.12 699.89 596.25 696.25 C599.38 692.61 602.29 687.79 603.75 683.75 C605.21 679.71 605.04 675.29 605 672 C604.96 668.71 604.33 666.67 603.5 664 C602.67 661.33 601.08 658.5 600 656 C598.92 653.5 598.5 652 597 649 C595.5 646 593.33 641.5 591 638 C588.67 634.5 586 631.33 583 628 C580 624.67 576 620.47 573 618 C570 615.53 566.33 614 565 613.2Z"/><path d="M565 613.2 C563.83 614.17 560.67 616.37 558 619 C555.33 621.63 551.83 625.67 549 629 C546.17 632.33 543.17 635.67 541 639 C538.83 642.33 537.33 645.83 536 649 C534.67 652.17 533.83 654.92 533 658 C532.17 661.08 531.29 663.83 531 667.5 C530.71 671.17 530.38 675.83 531.25 680 C532.12 684.17 533.96 688.96 536.25 692.5 C538.54 696.04 541.67 699.07 545 701.25 C548.33 703.43 552.71 704.98 556.25 705.6 C559.79 706.23 562.71 705.73 566.25 705 C569.79 704.27 573.96 703.12 577.5 701.25 C581.04 699.38 584.58 696.88 587.5 693.75 C590.42 690.62 593.43 686.46 595 682.5 C596.57 678.54 596.65 674.25 596.9 670 C597.15 665.75 597.15 660.83 596.5 657 C595.85 653.17 594.42 650.33 593 647 C591.58 643.67 590 640.33 588 637 C586 633.67 583.67 630.17 581 627 C578.33 623.83 574.67 620.3 572 618 C569.33 615.7 566.17 614 565 613.2Z"/></g><g fill="none" stroke="#b0f5b0" stroke-width="2.42"><circle cx="564.8" cy="613.5" r="23.9"/><circle cx="564.8" cy="613.5" r="47.8"/><circle cx="564.8" cy="613.5" r="71.7"/><circle cx="564.8" cy="613.5" r="95.6"/><circle cx="564.8" cy="613.5" r="119.5"/><line x1="564.8" y1="613.5" x2="564.8" y2="733"/><line x1="570.99" y1="636.59" x2="595.73" y2="728.93"/><line x1="576.75" y1="634.2" x2="624.55" y2="716.99"/><line x1="581.7" y1="630.4" x2="649.3" y2="698"/><line x1="585.5" y1="625.45" x2="668.29" y2="673.25"/><line x1="587.89" y1="619.69" x2="680.23" y2="644.43"/><line x1="564.8" y1="613.5" x2="684.3" y2="613.5"/><line x1="587.89" y1="607.31" x2="680.23" y2="582.57"/><line x1="585.5" y1="601.55" x2="668.29" y2="553.75"/><line x1="581.7" y1="596.6" x2="649.3" y2="529"/><line x1="576.75" y1="592.8" x2="624.55" y2="510.01"/><line x1="570.99" y1="590.41" x2="595.73" y2="498.07"/><line x1="564.8" y1="613.5" x2="564.8" y2="494"/><line x1="558.61" y1="590.41" x2="533.87" y2="498.07"/><line x1="552.85" y1="592.8" x2="505.05" y2="510.01"/><line x1="547.9" y1="596.6" x2="480.3" y2="529"/><line x1="544.1" y1="601.55" x2="461.31" y2="553.75"/><line x1="541.71" y1="607.31" x2="449.37" y2="582.57"/><line x1="564.8" y1="613.5" x2="445.3" y2="613.5"/><line x1="541.71" y1="619.69" x2="449.37" y2="644.43"/><line x1="544.1" y1="625.45" x2="461.31" y2="673.25"/><line x1="547.9" y1="630.4" x2="480.3" y2="698"/><line x1="552.85" y1="634.2" x2="505.05" y2="716.99"/><line x1="558.61" y1="636.59" x2="533.87" y2="728.93"/></g><g fill="none" stroke="#33dc33" stroke-width="1.38"><circle cx="564.8" cy="613.5" r="23.9"/><circle cx="564.8" cy="613.5" r="47.8"/><circle cx="564.8" cy="613.5" r="71.7"/><circle cx="564.8" cy="613.5" r="95.6"/><circle cx="564.8" cy="613.5" r="119.5"/><line x1="564.8" y1="613.5" x2="564.8" y2="733"/><line x1="570.99" y1="636.59" x2="595.73" y2="728.93"/><line x1="576.75" y1="634.2" x2="624.55" y2="716.99"/><line x1="581.7" y1="630.4" x2="649.3" y2="698"/><line x1="585.5" y1="625.45" x2="668.29" y2="673.25"/><line x1="587.89" y1="619.69" x2="680.23" y2="644.43"/><line x1="564.8" y1="613.5" x2="684.3" y2="613.5"/><line x1="587.89" y1="607.31" x2="680.23" y2="582.57"/><line x1="585.5" y1="601.55" x2="668.29" y2="553.75"/><line x1="581.7" y1="596.6" x2="649.3" y2="529"/><line x1="576.75" y1="592.8" x2="624.55" y2="510.01"/><line x1="570.99" y1="590.41" x2="595.73" y2="498.07"/><line x1="564.8" y1="613.5" x2="564.8" y2="494"/><line x1="558.61" y1="590.41" x2="533.87" y2="498.07"/><line x1="552.85" y1="592.8" x2="505.05" y2="510.01"/><line x1="547.9" y1="596.6" x2="480.3" y2="529"/><line x1="544.1" y1="601.55" x2="461.31" y2="553.75"/><line x1="541.71" y1="607.31" x2="449.37" y2="582.57"/><line x1="564.8" y1="613.5" x2="445.3" y2="613.5"/><line x1="541.71" y1="619.69" x2="449.37" y2="644.43"/><line x1="544.1" y1="625.45" x2="461.31" y2="673.25"/><line x1="547.9" y1="630.4" x2="480.3" y2="698"/><line x1="552.85" y1="634.2" x2="505.05" y2="716.99"/><line x1="558.61" y1="636.59" x2="533.87" y2="728.93"/></g><g font-family="Liberation Serif, serif" font-size="12.11" fill="#1e1e1e" stroke="#1e1e1e" stroke-width="0.12"><text x="564.8" y="489.82" text-anchor="middle">180</text><text x="564.8" y="745.33" text-anchor="middle">0</text><text x="443.1" y="617.35" text-anchor="end">90</text><text x="686.5" y="617.35" text-anchor="start">90</text><text x="447.17" y="578.61" text-anchor="end">105</text><text x="682.43" y="578.61" text-anchor="start">105</text><text x="459.49" y="549.79" text-anchor="end">120</text><text x="670.11" y="549.79" text-anchor="start">120</text><text x="478.87" y="525.04" text-anchor="end">135</text><text x="650.73" y="525.04" text-anchor="start">135</text><text x="504" y="506.05" text-anchor="end">150</text><text x="625.6" y="506.05" text-anchor="start">150</text><text x="533.21" y="494.11" text-anchor="end">165</text><text x="596.39" y="494.11" text-anchor="start">165</text><text x="532.22" y="741.37" text-anchor="end">15</text><text x="597.38" y="741.37" text-anchor="start">15</text><text x="503.4" y="729.43" text-anchor="end">30</text><text x="626.2" y="729.43" text-anchor="start">30</text><text x="478.65" y="710.44" text-anchor="end">45</text><text x="650.95" y="710.44" text-anchor="start">45</text><text x="459.66" y="685.69" text-anchor="end">60</text><text x="669.94" y="685.69" text-anchor="start">60</text><text x="447.72" y="656.87" text-anchor="end">75</text><text x="681.88" y="656.87" text-anchor="start">75</text></g><g font-family="Liberation Serif, serif" font-size="12.11" fill="#1e1e1e" stroke="#1e1e1e" stroke-width="0.12"><text x="564.8" y="635.2" text-anchor="middle">674</text><text x="564.8" y="659.1" text-anchor="middle">1348</text><text x="564.8" y="683" text-anchor="middle">2023</text><text x="564.8" y="706.9" text-anchor="middle">2697</text><text x="564.8" y="730.8" text-anchor="middle">3371</text></g><g fill="none" stroke-width="2.6" stroke-linejoin="round"><path stroke="#0b16a6" d="M565 613.2 C563.83 614.17 560.67 616.37 558 619 C555.33 621.63 551.75 625.67 549 629 C546.25 632.33 543.5 635.67 541.5 639 C539.5 642.33 538.08 645.83 537 649 C535.92 652.17 535.43 654.92 535 658 C534.57 661.08 534.19 663.62 534.4 667.5 C534.61 671.38 534.9 676.88 536.25 681.25 C537.6 685.62 539.79 690.21 542.5 693.75 C545.21 697.29 548.75 700.11 552.5 702.5 C556.25 704.89 561.46 707.06 565 708.1 C568.54 709.14 570.42 709.17 573.75 708.75 C577.08 708.33 581.25 707.68 585 705.6 C588.75 703.52 593.12 699.89 596.25 696.25 C599.38 692.61 602.29 687.79 603.75 683.75 C605.21 679.71 605.04 675.29 605 672 C604.96 668.71 604.33 666.67 603.5 664 C602.67 661.33 601.08 658.5 600 656 C598.92 653.5 598.5 652 597 649 C595.5 646 593.33 641.5 591 638 C588.67 634.5 586 631.33 583 628 C580 624.67 576 620.47 573 618 C570 615.53 566.33 614 565 613.2Z"/><path stroke="#dc1414" d="M565 613.2 C563.83 614.17 560.67 616.37 558 619 C555.33 621.63 551.83 625.67 549 629 C546.17 632.33 543.17 635.67 541 639 C538.83 642.33 537.33 645.83 536 649 C534.67 652.17 533.83 654.92 533 658 C532.17 661.08 531.29 663.83 531 667.5 C530.71 671.17 530.38 675.83 531.25 680 C532.12 684.17 533.96 688.96 536.25 692.5 C538.54 696.04 541.67 699.07 545 701.25 C548.33 703.43 552.71 704.98 556.25 705.6 C559.79 706.23 562.71 705.73 566.25 705 C569.79 704.27 573.96 703.12 577.5 701.25 C581.04 699.38 584.58 696.88 587.5 693.75 C590.42 690.62 593.43 686.46 595 682.5 C596.57 678.54 596.65 674.25 596.9 670 C597.15 665.75 597.15 660.83 596.5 657 C595.85 653.17 594.42 650.33 593 647 C591.58 643.67 590 640.33 588 637 C586 633.67 583.67 630.17 581 627 C578.33 623.83 574.67 620.3 572 618 C569.33 615.7 566.17 614 565 613.2Z"/></g>
<text x="653.6" y="396.5" font-family="Liberation Sans, sans-serif" font-size="22" fill="#404040" textLength="70.2" lengthAdjust="spacingAndGlyphs">Unit: cd</text>
<text x="291.8" y="760.6" font-family="Liberation Sans, sans-serif" font-size="22" fill="#404040" textLength="69.5" lengthAdjust="spacingAndGlyphs">Unit: cd</text>
<text x="641.3" y="760" font-family="Liberation Sans, sans-serif" font-size="22" fill="#404040" textLength="70.6" lengthAdjust="spacingAndGlyphs">Unit: cd</text>
<line x1="463" y1="422" x2="491.3" y2="422" stroke="#0b16a6" stroke-width="2.2"/><line x1="554.5" y1="422" x2="582" y2="422" stroke="#dc1414" stroke-width="2.2"/><g font-family="Liberation Serif, serif" font-size="11.5" fill="#222"><text x="495.8" y="425" textLength="37.2" lengthAdjust="spacingAndGlyphs">C0-C180</text><text x="582" y="425" textLength="42.3" lengthAdjust="spacingAndGlyphs">C90-C270</text></g>
<line x1="78.8" y1="789" x2="108.8" y2="789" stroke="#0b16a6" stroke-width="2.2"/><line x1="178.8" y1="789" x2="208.8" y2="789" stroke="#dc1414" stroke-width="2.2"/><g font-family="Liberation Serif, serif" font-size="12" fill="#222"><text x="114.5" y="793" textLength="41.8" lengthAdjust="spacingAndGlyphs">C0-C180</text><text x="208.8" y="793" textLength="47.5" lengthAdjust="spacingAndGlyphs">C90-C270</text></g>
<line x1="434.3" y1="786.8" x2="465" y2="786.8" stroke="#0b16a6" stroke-width="2.2"/><line x1="535.5" y1="786.8" x2="565.5" y2="786.8" stroke="#dc1414" stroke-width="2.2"/><g font-family="Liberation Serif, serif" font-size="12" fill="#222"><text x="470.6" y="790.4" textLength="41.3" lengthAdjust="spacingAndGlyphs">C0-C180</text><text x="565.5" y="790.4" textLength="46.5" lengthAdjust="spacingAndGlyphs">C90-C270</text></g>
</svg>
</body></html>
